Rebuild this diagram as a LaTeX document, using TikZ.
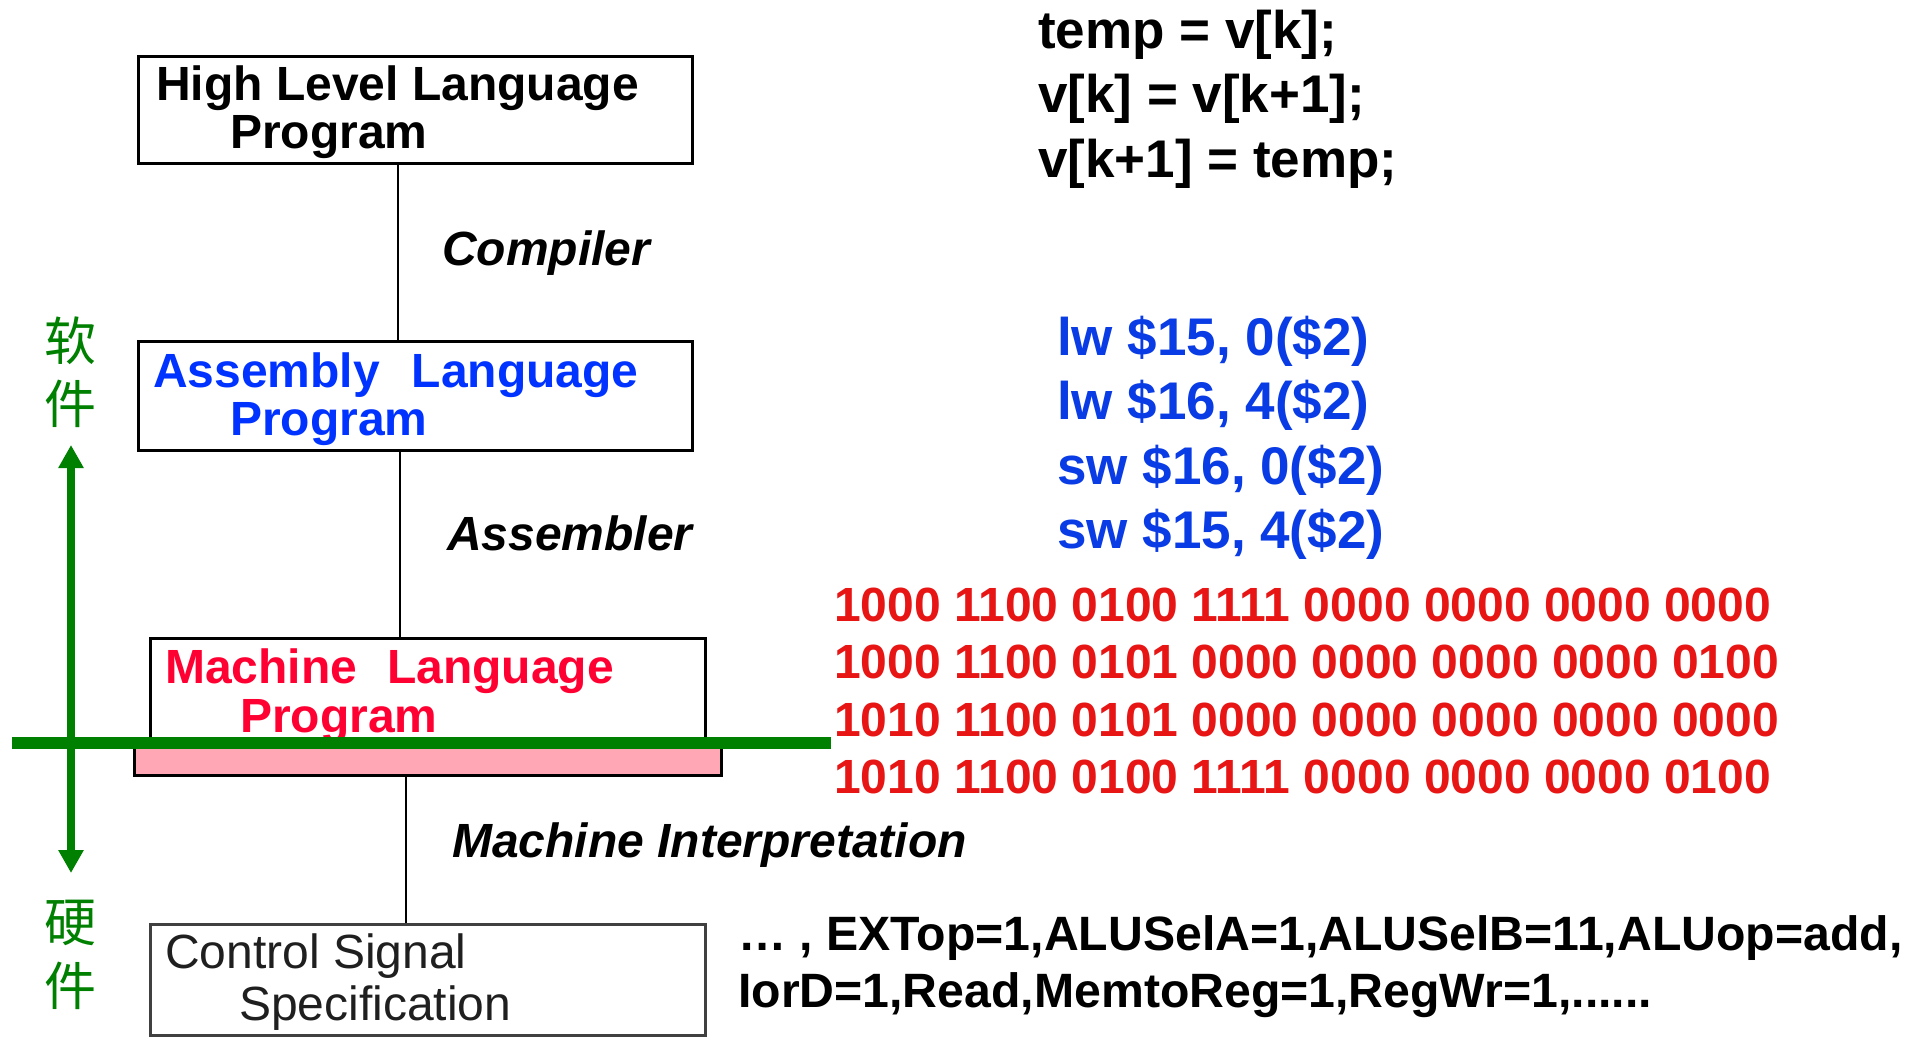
\documentclass[tikz,border=0pt]{standalone}
\usepackage{fontspec}
\setmainfont{Liberation Sans}
\newfontfamily\cjk{Noto Sans CJK SC}
\usetikzlibrary{arrows.meta}

\definecolor{hwgreen}{HTML}{008000}
\definecolor{boxblue}{HTML}{0033FF}
\definecolor{asmblue}{HTML}{0A3CE6}
\definecolor{boxred}{HTML}{FF0033}
\definecolor{binred}{HTML}{E81515}
\definecolor{isapink}{HTML}{FFA7B4}
\definecolor{ctrlgray}{HTML}{404040}

\tikzset{
  levelbox/.style={draw, line width=3pt, inner sep=0pt, minimum width=554pt, minimum height=107pt},
  boxtext/.style={anchor=base west, inner sep=0pt, font=\fontsize{48}{48}\selectfont\bfseries},
  ctrltext/.style={anchor=base west, inner sep=0pt, font=\fontsize{48}{48}\selectfont, text=black!88},
  tooltext/.style={anchor=base west, inner sep=0pt, font=\fontsize{48}{48}\selectfont\bfseries\itshape},
  codetext/.style={anchor=base west, inner sep=0pt, font=\fontsize{53}{53}\selectfont\bfseries},
  bintext/.style={anchor=base west, inner sep=0pt, font=\fontsize{48}{48}\selectfont\bfseries, text=binred},
  sigtext/.style={anchor=base west, inner sep=0pt, font=\fontsize{48.2}{48}\selectfont\bfseries},
  cjktext/.style={inner sep=0pt, text=hwgreen, font=\fontsize{52}{52}\selectfont\cjk},
  link/.style={line width=2.5pt},
  bigtip/.tip={Triangle[length=23pt,width=24pt]}
}

\begin{document}
\begin{tikzpicture}[x=1pt,y=-1pt]
\useasboundingbox[fill=white] (0,0) rectangle (1919,1037);

% level boxes
\node[levelbox] (hll)  at (415.5,110) {};
\node[levelbox, minimum height=109pt] (asm) at (415.5,396) {};
\node[levelbox, minimum width=555pt, minimum height=108pt] (mach) at (428,692) {};
\node[draw, line width=3pt, fill=isapink, inner sep=0pt, minimum width=587pt, minimum height=34pt] (isa) at (428,758.5) {};
\node[levelbox, draw=ctrlgray, minimum width=555pt, minimum height=111pt] (ctrl) at (428,980) {};

% box labels
\node[boxtext] (hllA) at (156,100) {High Level Language};
\node[boxtext] (hllB) at (230,148) {Program};
\node[boxtext, text=boxblue] (asmA) at (153,387) {Assembly\hspace{32pt}Language};
\node[boxtext, text=boxblue] (asmB) at (230,435) {Program};
\node[boxtext, text=boxred] (machA) at (165,683) {Machine\hspace{30pt}Language};
\node[boxtext, text=boxred] (machB) at (240,732) {Program};
\node[ctrltext] (ctrlA) at (165,968) {Control Signal};
\node[ctrltext] (ctrlB) at (239,1020) {Specification};

% translation steps between levels
\draw[link] ([xshift=-17.5pt]hll.south) -- ([xshift=-17.5pt]asm.north);
\draw[link] ([xshift=-15.5pt]asm.south) -- ([xshift=-28pt]mach.north);
\draw[link] ([xshift=-22pt]isa.south) -- ([xshift=-22pt]ctrl.north);

\node[tooltext] (comp) at (442,265) {Compiler};
\node[tooltext] (assem) at (447,550) {Assembler};
\node[tooltext] (interp) at (452,857) {Machine Interpretation};

% software / hardware boundary
\coordinate (barL) at (12,743);
\coordinate (barR) at (831,743);
\draw[hwgreen, line width=12pt] (barL) -- (barR);
\coordinate (swTop) at (71,445);
\coordinate (hwBot) at (71,873);
\draw[hwgreen, line width=8pt, {bigtip}-{bigtip}] (hwBot) -- (swTop);
\node[cjktext] (ruan) at (70,341) {软};
\node[cjktext] (jian1) at (70,404) {件};
\node[cjktext] (ying) at (70,923) {硬};
\node[cjktext] (jian2) at (70,986) {件};

% example at each level
\node[codetext] (c1) at (1038,48) {temp = v[k];};
\node[codetext] (c2) at (1038,112) {v[k] = v[k+1];};
\node[codetext] (c3) at (1038,177) {v[k+1] = temp;};

\node[codetext, text=asmblue] (a1) at (1057,355) {lw \$15, 0(\$2)};
\node[codetext, text=asmblue] (a2) at (1057,419) {lw \$16, 4(\$2)};
\node[codetext, text=asmblue] (a3) at (1057,484) {sw \$16, 0(\$2)};
\node[codetext, text=asmblue] (a4) at (1057,548) {sw \$15, 4(\$2)};

\node[bintext] (b1) at (834,621) {1000 1100 0100 1111 0000 0000 0000 0000};
\node[bintext] (b2) at (834,678) {1000 1100 0101 0000 0000 0000 0000 0100};
\node[bintext] (b3) at (834,736) {1010 1100 0101 0000 0000 0000 0000 0000};
\node[bintext] (b4) at (834,793) {1010 1100 0100 1111 0000 0000 0000 0100};

\node[sigtext] (s1) at (738,950) {… , EXTop=1,ALUSelA=1,ALUSelB=11,ALUop=add,};
\node[sigtext] (s2) at (738,1007) {IorD=1,Read,MemtoReg=1,RegWr=1,......};
\end{tikzpicture}
\end{document}
